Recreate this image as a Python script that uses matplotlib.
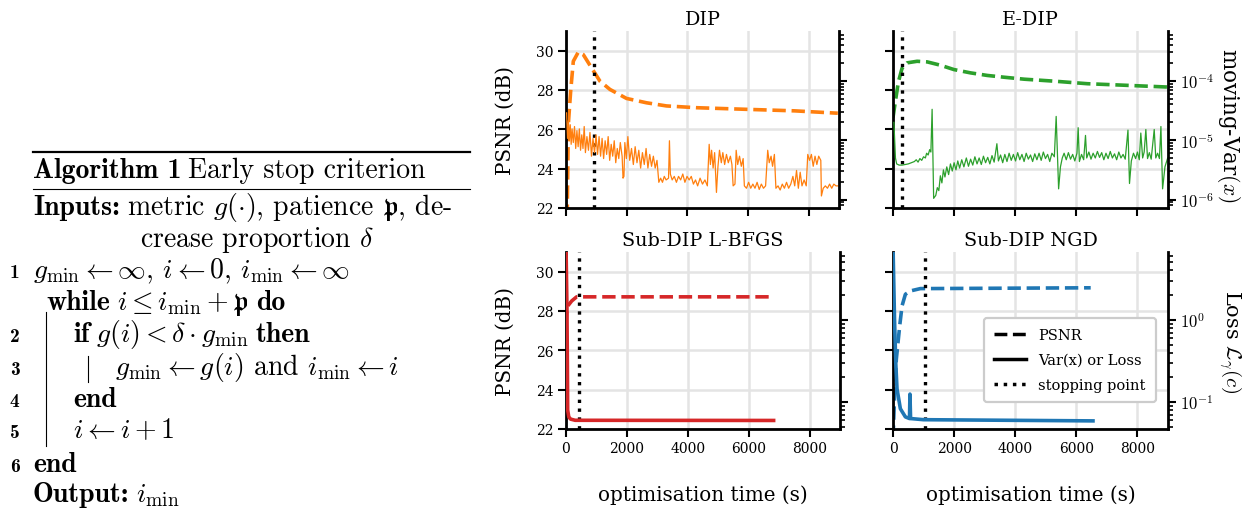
import numpy as np
import matplotlib
matplotlib.use("Agg")
import matplotlib.pyplot as plt
from matplotlib.lines import Line2D
from matplotlib.ticker import FuncFormatter, LogLocator, NullFormatter

plt.rcParams['font.family'] = ['DejaVu Serif']
plt.rcParams['mathtext.fontset'] = 'cm'

W, H = 1254, 510

# ---- data (time in s, PSNR in dB, var / loss as log10 or value) ----
dip_psnr_t = [20, 43, 77, 154, 241, 406, 570, 845, 1119, 1448, 1996, 2654, 3312, 4300, 5890, 7534, 8960]
dip_psnr = [21.5, 22.05, 26.26, 27.95, 29.46, 29.93, 29.80, 29.12, 28.45, 28.03, 27.57, 27.35, 27.19,
            27.10, 27.02, 26.94, 26.82]

dip_var_t = [20, 50, 80, 110, 140, 170, 200, 240, 280, 320, 360, 400, 440, 480, 520, 560, 600, 640,
             690, 740, 790, 840, 890, 940, 990, 1040, 1090, 1140, 1190, 1240, 1290, 1340, 1390, 1440,
             1490, 1540, 1590, 1640, 1690, 1740, 1790, 1850, 1880, 1910, 1940, 1990, 2040, 2100, 2160,
             2220, 2280, 2340, 2400, 2460, 2520, 2580, 2640, 2700, 2760, 2820, 2880, 2940, 3000, 3060,
             3120, 3180, 3240, 3300, 3380, 3410, 3440, 3500, 3570, 3640, 3710, 3780, 3850, 3920, 3990,
             4060, 4130, 4200, 4270, 4340, 4420, 4500, 4580, 4660, 4720, 4760, 4800, 4850, 4900, 4960,
             5010, 5060, 5120, 5170, 5230, 5290, 5350, 5420, 5470, 5510, 5570, 5610, 5660, 5720, 5780,
             5840, 5880, 5950, 6020, 6090, 6160, 6230, 6300, 6370, 6440, 6510, 6580, 6650, 6700, 6760,
             6810, 6870, 6920, 6990, 7060, 7130, 7200, 7270, 7340, 7410, 7480, 7540, 7600, 7660, 7720,
             7780, 7850, 7920, 7970, 8030, 8090, 8150, 8210, 8270, 8330, 8400, 8420, 8480, 8550, 8620,
             8690, 8760, 8830, 8900, 8960]
dip_log_var = [-4.54, -4.97, -4.67, -5.01, -4.74, -5.07, -4.81, -5.04, -4.77, -5.14, -4.84, -5.11, -4.81,
               -5.17, -4.91, -5.14, -4.77, -5.21, -4.94, -5.17, -4.87, -5.27, -4.97, -5.21, -4.91, -5.24,
               -4.94, -5.27, -4.97, -5.31, -5.01, -5.24, -4.94, -5.34, -5.07, -5.27, -5.01, -5.38, -5.14,
               -5.31, -5.04, -5.27, -5.64, -5.61, -5.04, -5.31, -4.94, -5.34, -5.14, -5.41, -5.11, -5.38,
               -5.17, -5.47, -5.21, -5.41, -5.14, -5.47, -5.24, -5.44, -5.27, -5.47, -5.34, -5.71, -5.64,
               -5.71, -5.61, -5.67, -5.64, -5.01, -5.57, -5.67, -5.61, -5.71, -5.61, -5.67, -5.57, -5.71,
               -5.61, -5.67, -5.61, -5.74, -5.67, -5.77, -5.64, -5.74, -5.67, -5.77, -5.07, -5.41, -5.17,
               -5.47, -5.21, -5.88, -5.44, -5.17, -5.38, -5.21, -5.41, -5.24, -5.38, -5.27, -5.41, -5.77,
               -5.74, -5.17, -5.41, -5.27, -5.44, -5.31, -5.77, -5.81, -5.71, -5.81, -5.74, -5.81, -5.71,
               -5.83, -5.74, -5.81, -5.77, -5.17, -5.38, -5.27, -5.44, -5.24, -5.81, -5.77, -5.84, -5.74,
               -5.81, -5.71, -5.81, -5.74, -5.61, -5.77, -5.51, -5.81, -5.54, -5.77, -5.67, -5.77, -5.24,
               -5.34, -5.24, -5.44, -5.27, -5.41, -5.27, -5.34, -5.94, -5.81, -5.77, -5.81, -5.74, -5.81,
               -5.74, -5.77, -5.77]

edip_psnr_t = [0, 66, 175, 295, 460, 788, 1117, 1554, 1992, 2540, 3087, 3634, 4291, 5265, 6360, 7455, 8987]
edip_psnr = [26.6, 27.3, 28.4, 29.1, 29.38, 29.46, 29.43, 29.26, 29.04, 28.87, 28.74, 28.65, 28.55,
             28.45, 28.32, 28.25, 28.15]

edip_var_t = [30, 80, 120, 200, 300, 400, 500, 600, 700, 760, 820, 880, 940, 1000, 1060, 1100, 1150,
              1200, 1240, 1280, 1330, 1400, 1450, 1500, 1550, 1600, 1650, 1700, 1760, 1820, 1880, 1940,
              2000, 2060, 2120, 2180, 2250, 2320, 2400, 2470, 2540, 2610, 2680, 2750, 2820, 2890, 2960,
              3030, 3100, 3170, 3240, 3310, 3400, 3450, 3520, 3590, 3660, 3730, 3800, 3870, 3940, 4010,
              4080, 4150, 4220, 4290, 4360, 4430, 4500, 4570, 4640, 4710, 4780, 4850, 4920, 4990, 5060,
              5130, 5200, 5280, 5340, 5420, 5480, 5540, 5600, 5670, 5740, 5810, 5880, 5950, 6020, 6060,
              6100, 6170, 6240, 6300, 6340, 6410, 6480, 6550, 6620, 6690, 6760, 6830, 6900, 6970, 7040,
              7110, 7180, 7250, 7320, 7390, 7460, 7530, 7600, 7690, 7740, 7800, 7870, 7940, 8000, 8060,
              8110, 8170, 8220, 8275, 8330, 8390, 8450, 8549, 8600, 8660, 8720, 8768, 8823, 8900, 8990]
edip_log_var = [-4.7, -5.3, -5.40, -5.42, -5.42, -5.41, -5.40, -5.38, -5.36, -5.33, -5.37, -5.31, -5.34,
                -5.28, -5.30, -5.22, -5.25, -5.16, -5.20, -4.48, -5.98, -5.93, -5.80, -5.85, -5.60, -5.72,
                -5.50, -5.62, -5.45, -5.58, -5.40, -5.52, -5.38, -5.50, -5.35, -5.47, -5.33, -5.45, -5.30,
                -5.44, -5.32, -5.42, -5.28, -5.40, -5.30, -5.41, -5.27, -5.38, -5.29, -5.40, -5.26, -5.37,
                -5.06, -5.35, -5.25, -5.38, -5.24, -5.36, -5.22, -5.34, -5.24, -5.35, -5.21, -5.33, -5.24,
                -5.36, -5.22, -5.32, -5.25, -5.36, -5.23, -5.33, -5.22, -5.34, -5.20, -5.31, -5.24, -5.36,
                -5.22, -5.28, -4.60, -5.82, -5.45, -5.30, -5.22, -5.33, -5.21, -5.32, -5.24, -5.35, -5.22,
                -4.79, -5.36, -5.24, -5.33, -4.92, -5.30, -5.20, -5.32, -5.22, -5.30, -5.19, -5.29, -5.21,
                -5.33, -5.22, -5.31, -5.19, -5.30, -5.23, -5.33, -5.20, -5.30, -5.24, -5.32, -4.83, -5.73,
                -5.35, -5.22, -5.31, -5.20, -5.33, -4.88, -5.30, -5.20, -4.82, -5.31, -5.21, -5.32, -4.82,
                -5.30, -5.22, -5.31, -4.77, -5.82, -5.45, -5.30]

lbfgs_psnr_t = [0, 30, 60, 187, 350, 6710]
lbfgs_psnr = [27.3, 28.18, 28.26, 28.51, 28.72, 28.72]
lbfgs_loss_t = [0, 30, 45, 55, 90, 150, 300, 6820]
lbfgs_loss = [8.0, 1.5, 0.3, 0.08, 0.066, 0.062, 0.060, 0.0597]

ngd_psnr_t = [0, 60, 109, 219, 296, 405, 569, 897, 1116, 6470]
ngd_psnr = [21.5, 24.0, 25.55, 27.24, 28.26, 28.85, 29.02, 29.14, 29.14, 29.18]
ngd_loss_t = [0, 50, 90, 131, 241, 405, 540, 555, 575, 1000, 6545]
ngd_loss = [8.0, 1.0, 0.3, 0.145, 0.083, 0.066, 0.063, 0.125, 0.063, 0.061, 0.059]

stop_t = {'DIP': 910, 'E-DIP': 300, 'Sub-DIP L-BFGS': 415, 'Sub-DIP NGD': 1050}

fig = plt.figure(figsize=(12.54, 5.10), dpi=100)


def fx(x):
    return x / W


def fy(y):
    return 1 - y / H


def log_fmt(v, pos):
    return r'$10^{%d}$' % int(round(np.log10(v)))


def panel(box, title, color, pt, pv, vt, vv, var_lw, var_lim, left_lab, right_lab, bottom_lab):
    x, y, w, h = box
    ax = fig.add_axes([fx(x), fy(y + h), w / W, h / H])
    ax.grid(True, color='#e4e4e4', lw=1.8)
    ax.set_axisbelow(True)
    ax.plot(pt, pv, '--', color=color, lw=2.6)
    ax.axvline(stop_t[title], color='k', ls=':', lw=2.4, zorder=3)
    ax.set_xlim(0, 9000)
    ax.set_ylim(22, 31)
    ax.set_yticks([22, 24, 26, 28, 30])
    ax.set_xticks([0, 2000, 4000, 6000, 8000])
    for s in ['top', 'right']:
        ax.spines[s].set_visible(False)
    for s in ['left', 'bottom']:
        ax.spines[s].set_linewidth(2.0)
    ax.tick_params(which='major', length=5.5, width=1.5, labelsize=10,
                   labelleft=left_lab, labelbottom=bottom_lab)
    ax.set_title(title, fontsize=13.8, pad=5)
    if left_lab:
        ax.set_ylabel('PSNR (dB)', fontsize=14.3)
        ax.yaxis.set_label_coords(-0.187, 0.5)
    if bottom_lab:
        ax.set_xlabel('optimisation time (s)', fontsize=14.3)
        ax.xaxis.set_label_coords(0.5, -0.31)

    ax2 = ax.twinx()
    ax2.plot(vt, vv, color=color, lw=var_lw)
    ax2.set_yscale('log')
    ax2.set_ylim(var_lim)
    for s in ['top', 'left', 'bottom']:
        ax2.spines[s].set_visible(False)
    ax2.spines['right'].set_linewidth(2.0)
    ax2.yaxis.set_major_locator(LogLocator(base=10))
    ax2.yaxis.set_minor_locator(LogLocator(base=10, subs=np.arange(2, 10)))
    ax2.yaxis.set_major_formatter(FuncFormatter(log_fmt))
    ax2.yaxis.set_minor_formatter(NullFormatter())
    ax2.tick_params(which='major', length=5.5, width=1.5, labelsize=12, labelright=right_lab)
    ax2.tick_params(which='minor', length=3.5, width=1.2)
    return ax, ax2


top_lim = (7.2e-7, 6.9e-4)
bot_lim = (0.047, 6.7)

panel((566, 32, 273, 177), 'DIP', '#ff7f0e', dip_psnr_t, dip_psnr,
      dip_var_t, 10 ** np.array(dip_log_var), 0.9, top_lim, True, False, False)
ax, ax2 = panel((893, 32, 275, 177), 'E-DIP', '#2ca02c', edip_psnr_t, edip_psnr,
                edip_var_t, 10 ** np.array(edip_log_var), 0.9, top_lim, False, True, False)
ax2.set_ylabel('moving-Var$(x)$', fontsize=15.5, rotation=270, va='center', ha='center')
ax2.yaxis.set_label_coords(1.22, 0.47)

panel((566, 253, 274, 177), 'Sub-DIP L-BFGS', '#d62728', lbfgs_psnr_t, lbfgs_psnr,
      lbfgs_loss_t, lbfgs_loss, 2.6, bot_lim, True, False, True)
ax, ax2 = panel((893, 253, 275, 177), 'Sub-DIP NGD', '#1f77b4', ngd_psnr_t, ngd_psnr,
                ngd_loss_t, ngd_loss, 2.6, bot_lim, False, True, True)
ax2.set_ylabel(r'Loss $\mathcal{L}_\gamma(c)$', fontsize=15, rotation=270, va='center', ha='center')
ax2.yaxis.set_label_coords(1.225, 0.5)

handles = [Line2D([], [], color='k', ls='--', lw=2.5),
           Line2D([], [], color='k', ls='-', lw=2.5),
           Line2D([], [], color='k', ls=':', lw=2.5)]
leg = ax2.legend(handles, ['PSNR', 'Var(x) or Loss', 'stopping point'], fontsize=10.5,
                 loc='lower left', bbox_to_anchor=(0.331, 0.153), borderaxespad=0,
                 labelspacing=0.75, borderpad=0.7, handlelength=2.2, framealpha=1.0)
leg.get_frame().set_linewidth(1.6)
leg.get_frame().set_edgecolor('#cccccc')

# ---- algorithm box ----
fig.add_artist(Line2D([fx(33), fx(470)], [fy(153), fy(153)], color='k', lw=1.6))
fig.add_artist(Line2D([fx(33), fx(470)], [fy(190), fy(190)], color='k', lw=0.8))
fig.add_artist(Line2D([fx(46), fx(46)], [fy(313), fy(447)], color='k', lw=0.8))
fig.add_artist(Line2D([fx(88), fx(88)], [fy(357), fy(383)], color='k', lw=0.8))

renderer = fig.canvas.get_renderer()

alg_lines = [
    (33, 178, [('Algorithm 1', 'cmb10'), ('Early stop criterion', 'cmr10')]),
    (33, 215, [('Inputs:', 'cmb10'), (r'metric $g(\cdot)$, patience $\mathfrak{p}$, de-', 'cmr10')]),
    (140, 247, [(r'crease proportion $\delta$', 'cmr10')]),
    (33, 278, [(r'$g_{\min} \leftarrow \infty$, $i \leftarrow 0$, $i_{\min} \leftarrow \infty$', 'cmr10')]),
    (46, 310, [('while', 'cmb10'), (r'$i \leq i_{\min} + \mathfrak{p}$', 'cmr10'), ('do', 'cmb10')]),
    (73, 342, [('if', 'cmb10'), (r'$g(i) < \delta \cdot g_{\min}$', 'cmr10'), ('then', 'cmb10')]),
    (115, 375, [(r'$g_{\min} \leftarrow g(i)$ and $i_{\min} \leftarrow i$', 'cmr10')]),
    (73, 407, [('end', 'cmb10')]),
    (73, 438, [(r'$i \leftarrow i + 1$', 'cmr10')]),
    (33, 472, [('end', 'cmb10')]),
    (33, 502, [('Output:', 'cmb10'), (r'$i_{\min}$', 'cmr10')]),
]
for x, y, segs in alg_lines:
    for s, fam in segs:
        t = fig.text(fx(x), fy(y), s, family=fam, fontsize=20, ha='left', va='baseline')
        x = t.get_window_extent(renderer).x1 + 7

line_nums = [(278, '1'), (342, '2'), (375, '3'), (407, '4'), (438, '5'), (472, '6')]
for y, s in line_nums:
    fig.text(fx(10), fy(y), s, family='cmb10', fontsize=14, ha='left', va='baseline')

fig.savefig('out.png', dpi=100)
